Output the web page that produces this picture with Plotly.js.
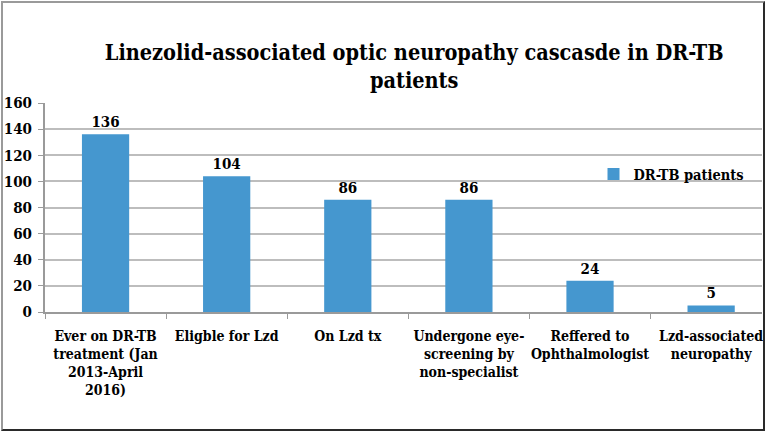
<!DOCTYPE html>
<html>
<head>
<meta charset="utf-8">
<script src="https://cdn.plot.ly/plotly-3.0.1.min.js"></script>
<style>
  html, body { margin: 0; padding: 0; background: #ffffff; }
  #wrap { position: relative; width: 767px; height: 433px; overflow: hidden; }
  #chart { position: absolute; left: 0; top: 0; width: 767px; height: 433px; }
  #frame { position: absolute; left: 1px; top: 1px; width: 760px; height: 426px;
           border-left: 2px solid #9a9a9a; border-top: 2px solid #9a9a9a;
           border-right: 2px solid #2a2a2a; border-bottom: 2px solid #2a2a2a;
           pointer-events: none; }
</style>
</head>
<body>
<div id="wrap"><div id="chart"></div><div id="frame"></div></div>
<script>
const categories = [
  "Ever on DR-TB<br>treatment (Jan<br>2013-April<br>2016)",
  "Eligble for Lzd",
  "On Lzd tx",
  "Undergone eye-<br>screening by<br>non-specialist",
  "Reffered to<br>Ophthalmologist",
  "Lzd-associated<br>neuropathy"
];
const values = [136, 104, 86, 86, 24, 5];
const seriesName = "DR-TB patients";
const yTicks = [0, 20, 40, 60, 80, 100, 120, 140, 160];

const fontFam = "DejaVu Serif Condensed, DejaVu Serif";

Plotly.newPlot("chart", [{
  type: "bar",
  x: categories,
  y: values,
  name: seriesName,
  text: values.map(String),
  textposition: "outside",
  textfont: { family: fontFam, size: 15, color: "#000000", weight: 700 },
  cliponaxis: false,
  marker: { color: "#4597cf" },
  showlegend: true
}], {
  width: 767, height: 433,
  margin: { l: 45, r: 5, t: 103, b: 121 },
  paper_bgcolor: "#ffffff",
  plot_bgcolor: "#ffffff",
  bargap: 0.61,
  font: { family: fontFam, color: "#000000", weight: 700 },
  title: {
    text: "<b>Linezolid-associated optic neuropathy cascasde in DR-TB<br>patients</b>",
    font: { family: fontFam, size: 21.5, color: "#000000" },
    x: 0.54, xanchor: "center", y: 0.862, yanchor: "middle"
  },
  xaxis: {
    type: "category",
    range: [-0.5, 5.42],
    tickson: "boundaries",
    ticks: "outside", ticklen: 5, tickcolor: "#9a9a9a",
    ticklabelstandoff: 10,
    showline: true, linecolor: "#9a9a9a", linewidth: 2,
    showgrid: false,
    tickangle: 0,
    tickfont: { family: fontFam, size: 14, color: "#000000", weight: 700 },
    automargin: false
  },
  yaxis: {
    range: [0, 160],
    tickvals: yTicks,
    ticks: "outside", ticklen: 5, tickcolor: "#9a9a9a",
    ticklabelstandoff: 3,
    showline: true, linecolor: "#9a9a9a", linewidth: 2,
    showgrid: true, gridcolor: "#bdbdbd", gridwidth: 2,
    zeroline: false,
    tickfont: { family: fontFam, size: 15, color: "#000000", weight: 700 },
    automargin: false
  },
  legend: {
    x: 0.765, y: 0.66, xanchor: "left", yanchor: "middle",
    bgcolor: "rgba(0,0,0,0)",
    font: { family: fontFam, size: 14.5, color: "#000000", weight: 700 },
    itemwidth: 30
  }
}, { displayModeBar: false, staticPlot: true });
</script>
</body>
</html>
